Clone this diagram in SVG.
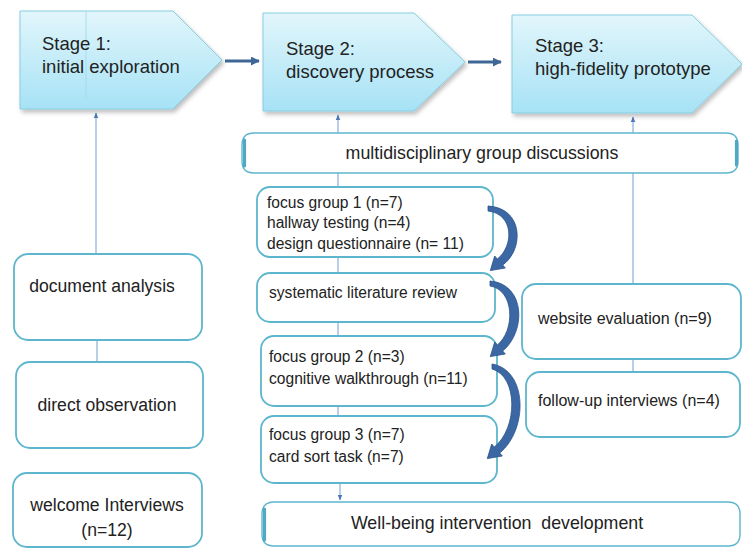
<svg xmlns="http://www.w3.org/2000/svg" width="742" height="548" viewBox="0 0 742 548">
<defs>
  <linearGradient id="stageFill" x1="0" y1="0" x2="0" y2="1">
    <stop offset="0" stop-color="#e2f6fb"/>
    <stop offset="1" stop-color="#a6e2f5"/>
  </linearGradient>
  <filter id="shadow" x="-10%" y="-10%" width="130%" height="140%">
    <feDropShadow dx="2" dy="3" stdDeviation="2" flood-color="#000" flood-opacity="0.25"/>
  </filter>
  <marker id="bigHead" viewBox="0 0 10 10" refX="9" refY="5" markerWidth="3" markerHeight="3" orient="auto">
    <path d="M0,0 L10,5 L0,10 Z" fill="#3f6796"/>
  </marker>
  <marker id="smallHead" viewBox="0 0 10 10" refX="9" refY="5" markerWidth="6" markerHeight="6" orient="auto" markerUnits="userSpaceOnUse">
    <path d="M0,1 L10,5 L0,9 Z" fill="#4a78b8"/>
  </marker>
  <style>
    .stage { fill: url(#stageFill); stroke: #86cde0; stroke-width: 1; filter: url(#shadow); }
    .box { fill: #ffffff; stroke: #5db6cd; stroke-width: 1.8; }
    .band { fill: #ffffff; stroke: #5db6cd; stroke-width: 1.4; }
    .bar { fill: none; stroke: #4fa9c4; stroke-width: 3.2; stroke-linecap: round; }
    .t { font-family: "Liberation Sans", Arial, sans-serif; fill: #222222; }
    .stg { font-size: 18.5px; }
    .big { font-size: 17.8px; }
    .mid { font-size: 17.6px; }
    .sm { font-size: 15.6px; }
    .sm2 { font-size: 16px; }
    .thin { stroke: #8aaed8; stroke-width: 1.2; fill: none; }
    .thick { stroke: #3f6796; stroke-width: 3; fill: none; }
    .curve { fill: #3b68a4; stroke: #2a5288; stroke-width: 0.8; }
  </style>
</defs>
<rect width="742" height="548" fill="#ffffff"/>

<g id="connectors">
  <line class="thin" x1="96" y1="254" x2="96" y2="113" marker-end="url(#smallHead)"/>
  <line class="thin" x1="97" y1="340" x2="97" y2="362"/>
  <line class="thin" x1="338" y1="133" x2="338" y2="115" marker-end="url(#smallHead)"/>
  <line class="thin" x1="338" y1="173" x2="338" y2="484"/>
  <line class="thin" x1="340" y1="484" x2="340" y2="500" marker-end="url(#smallHead)"/>
  <line class="thin" x1="633" y1="284" x2="633" y2="117" marker-end="url(#smallHead)"/>
  <line class="thin" x1="633" y1="359" x2="633" y2="372"/>
  <line class="thick" x1="225" y1="61" x2="259" y2="61" marker-end="url(#bigHead)"/>
  <line class="thick" x1="468" y1="62" x2="501" y2="62" marker-end="url(#bigHead)"/>
</g>

<g id="stage1">
  <path class="stage" d="M20,11 L173,11 L222,60 L173,109 L20,109 Z"/>
  <line x1="86" y1="12" x2="86" y2="98" stroke="#9fd8e8" stroke-width="0.8"/>
  <text class="t stg" x="42" y="50">Stage 1:</text>
  <text class="t stg" x="42" y="73">initial exploration</text>
</g>

<g id="stage2">
  <path class="stage" d="M263,13 L414,13 L465,62 L414,111 L263,111 Z"/>
  <text class="t stg" x="286" y="55">Stage 2:</text>
  <text class="t stg" x="286" y="78">discovery process</text>
</g>

<g id="stage3">
  <path class="stage" d="M512,15 L692,15 L742,64 L692,113 L512,113 Z"/>
  <text class="t stg" x="535" y="52">Stage 3:</text>
  <text class="t stg" x="535" y="75">high-fidelity prototype</text>
</g>

<g id="multidisciplinary">
  <path class="band" d="M254,133 L726,133 Q738,133 738,145 L738,161 Q738,173 726,173 L254,173 Q242,173 242,161 L242,145 Q242,133 254,133 Z"/>
  <path class="bar" d="M244.5,140 L244.5,166"/>
  <path class="bar" d="M736.5,141 L736.5,165" stroke-width="2.4"/>
  <text class="t big" x="482" y="159" text-anchor="middle">multidisciplinary group discussions</text>
</g>

<g id="focus1">
  <rect class="box" x="257" y="187" width="236" height="70" rx="13"/>
  <text class="t sm" x="267" y="208">focus group 1 (n=7)</text>
  <text class="t sm" x="267" y="228">hallway testing (n=4)</text>
  <text class="t sm" x="267" y="249">design questionnaire (n= 11)</text>
</g>

<g id="literature">
  <rect class="box" x="257" y="273" width="238" height="49" rx="13"/>
  <text class="t sm" x="269" y="298">systematic literature review</text>
</g>

<g id="focus2">
  <rect class="box" x="261" y="336" width="236" height="70" rx="13"/>
  <text class="t sm" x="269" y="362">focus group 2 (n=3)</text>
  <text class="t sm" x="269" y="384">cognitive walkthrough (n=11)</text>
</g>

<g id="focus3">
  <rect class="box" x="261" y="416" width="236" height="67" rx="13"/>
  <text class="t sm" x="269" y="440">focus group 3 (n=7)</text>
  <text class="t sm" x="269" y="462">card sort task (n=7)</text>
</g>

<g id="wellbeing">
  <path class="band" d="M274,502 L728,502 Q740,502 740,514 L740,534 Q740,546 728,546 L274,546 Q262,546 262,534 L262,514 Q262,502 274,502 Z"/>
  <path class="bar" d="M264.5,509 L264.5,540"/>
  <text class="t big" x="497" y="529" text-anchor="middle" xml:space="preserve">Well-being intervention  development</text>
</g>

<g id="document">
  <rect class="box" x="14" y="254" width="188" height="86" rx="14"/>
  <text class="t mid" x="102" y="292" text-anchor="middle">document analysis</text>
</g>

<g id="observation">
  <rect class="box" x="16" y="362" width="187" height="86" rx="14"/>
  <text class="t mid" x="107" y="411" text-anchor="middle">direct observation</text>
</g>

<g id="welcome">
  <rect class="box" x="13" y="473" width="189" height="74" rx="14"/>
  <text class="t mid" x="107" y="511" text-anchor="middle">welcome Interviews</text>
  <text class="t mid" x="107" y="536" text-anchor="middle">(n=12)</text>
</g>

<g id="website">
  <rect class="box" x="522" y="284" width="219" height="75" rx="14"/>
  <text class="t sm2" x="538" y="324">website evaluation (n=9)</text>
</g>

<g id="followup">
  <rect class="box" x="526" y="372" width="214" height="65" rx="14"/>
  <text class="t sm2" x="538" y="406">follow-up interviews (n=4)</text>
</g>

<g id="curved-arrows">
  <path class="curve" d="M488,206 C524,208 524,250 502.7,265 L505.3,268 L490.3,270.6 L494.7,256 L497.3,259 C514,246 514,214 488,211 Z"/>
  <path class="curve" d="M490,281 C526,284 526,332 502.7,351 L505.3,354 L490.3,356.6 L494.7,342 L497.3,345 C515,331 515,290 490,286 Z"/>
  <path class="curve" d="M492,364 C528,370 528,430 499.7,453 L502.3,456 L487.3,458.6 L491.7,444 L494.3,447 C518,428 518,376 492,369 Z"/>
</g>
</svg>
